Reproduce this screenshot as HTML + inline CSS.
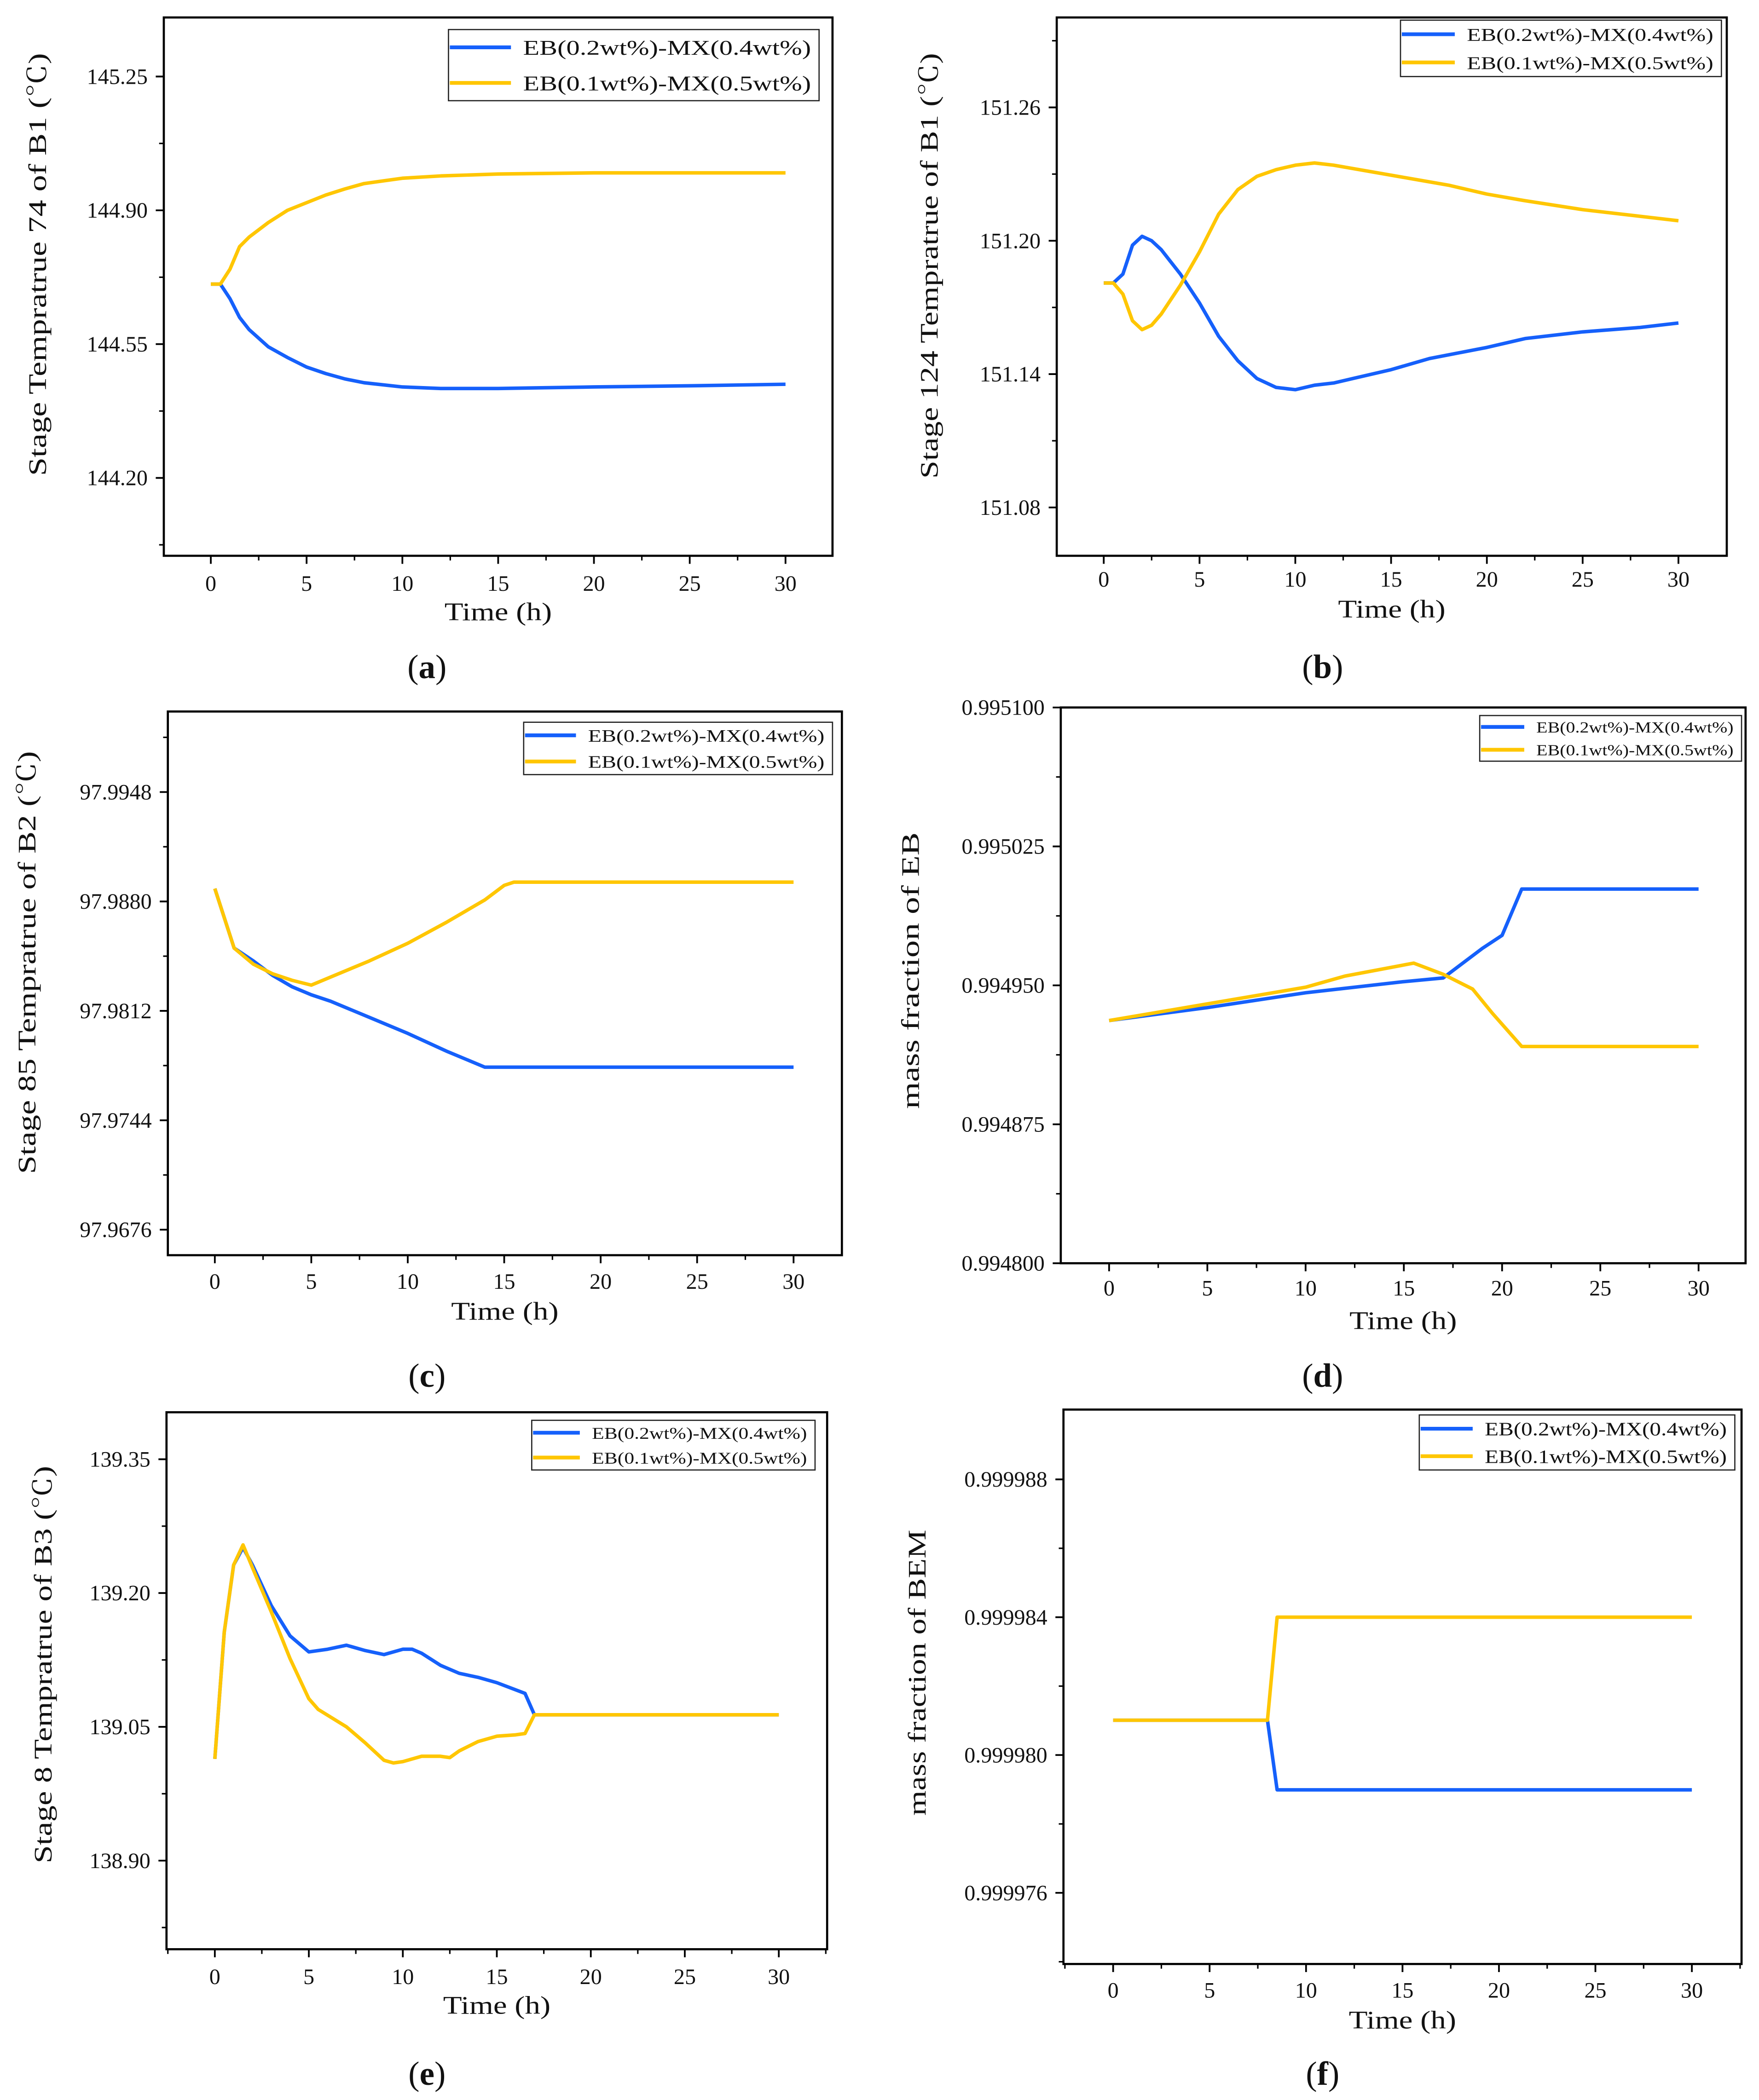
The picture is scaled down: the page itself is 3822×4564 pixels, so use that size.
<!DOCTYPE html>
<html><head><meta charset="utf-8"><style>
html,body{margin:0;padding:0;background:#fff;}
svg{display:block;}
text{font-family:"Liberation Serif","Noto Serif CJK SC",serif;fill:#111;}
</style></head><body>
<svg id="fig" width="3822" height="4564" viewBox="0 0 1310 1564.3" xmlns="http://www.w3.org/2000/svg"></svg>
<script>
// ---- data arrays ----
const aBlueT=[0,0.5,1,1.5,2,3,4,5,6,7,8,10,12,15,20,25,30];
const aBlueV=[144.707,144.707,144.669,144.62,144.588,144.543,144.515,144.49,144.473,144.459,144.449,144.438,144.434,144.434,144.438,144.441,144.445];
const aYelT=[0,0.5,1,1.5,2,3,4,5,6,7,8,9,10,12,15,20,25,30];
const aYelV=[144.707,144.707,144.746,144.805,144.83,144.868,144.9,144.92,144.94,144.956,144.97,144.977,144.984,144.99,144.995,144.998,144.998,144.998];
const aYTicks=[145.25,144.90,144.55,144.20];
const aYLabels=["145.25","144.90","144.55","144.20"];

const bBlueT=[0,0.5,1,1.5,2,2.5,3,4,5,6,7,8,9,10,11,12,13,15,17,20,22,25,28,30];
const bBlueV=[151.181,151.181,151.185,151.198,151.202,151.2,151.196,151.185,151.172,151.157,151.146,151.138,151.134,151.133,151.135,151.136,151.138,151.142,151.147,151.152,151.156,151.159,151.161,151.163];
const bYelT=[0,0.5,1,1.5,2,2.5,3,4,5,6,7,8,9,10,11,12,14,16,18,20,22,25,28,30];
const bYelV=[151.181,151.181,151.176,151.164,151.160,151.162,151.167,151.18,151.195,151.212,151.223,151.229,151.232,151.234,151.235,151.234,151.231,151.228,151.225,151.221,151.218,151.214,151.211,151.209];
const bYTicks=[151.26,151.20,151.14,151.08];
const bYLabels=["151.26","151.20","151.14","151.08"];

const cBlueT=[0,1,2,3,4,5,6,8,10,12,14,30];
const cBlueV=[97.9888,97.9851,97.9843,97.9834,97.9827,97.9822,97.9818,97.9808,97.9798,97.9787,97.9777,97.9777];
const cYelT=[0,1,2,3,4,5,6,8,10,12,14,15,15.5,30];
const cYelV=[97.9888,97.9851,97.9841,97.9835,97.9831,97.9828,97.9833,97.9843,97.9854,97.9867,97.9881,97.9890,97.9892,97.9892];
const cYTicks=[97.9948,97.9880,97.9812,97.9744,97.9676];
const cYLabels=["97.9948","97.9880","97.9812","97.9744","97.9676"];

const dBlueT=[0,5,10,15,17,19,20,21,30];
const dBlueV=[0.994931,0.994938,0.994946,0.994952,0.994954,0.99497,0.994977,0.995002,0.995002];
const dYelT=[0,5,10,12,15.5,17,18.5,19.5,21,30];
const dYelV=[0.994931,0.99494,0.994949,0.994955,0.994962,0.994956,0.994948,0.994935,0.994917,0.994917];
const dYTicks=[0.995100,0.995025,0.994950,0.994875,0.994800];
const dYLabels=["0.995100","0.995025","0.994950","0.994875","0.994800"];

const eBlueT=[0,0.5,1,1.5,2,3,4,5,6,7,8,9,10,10.5,11,12,13,14,15,16.5,17,30];
const eBlueV=[139.014,139.156,139.2315,139.251,139.2315,139.186,139.152,139.134,139.137,139.1415,139.1355,139.131,139.137,139.137,139.1325,139.119,139.11,139.1055,139.0995,139.0875,139.0635,139.0635];
const eYelT=[0,0.5,1,1.5,2,3,4,5,5.5,7,8,9,9.5,10,11,12,12.5,13,14,15,16,16.5,17,30];
const eYelV=[139.014,139.156,139.2315,139.254,139.2285,139.179,139.1265,139.0815,139.0695,139.05,139.032,139.0125,139.0095,139.011,139.017,139.017,139.0155,139.023,139.0335,139.0395,139.041,139.0425,139.0635,139.0635];
const eYTicks=[139.35,139.20,139.05,138.90];
const eYLabels=["139.35","139.20","139.05","138.90"];

const fBlueT=[0,8,8.5,30];
const fBlueV=[0.99998101,0.99998101,0.99997899,0.99997899];
const fYelT=[0,8,8.5,30];
const fYelV=[0.99998101,0.99998101,0.999984,0.999984];
const fYTicks=[0.999988,0.999984,0.999980,0.999976];
const fYLabels=["0.999988","0.999984","0.999980","0.999976"];

const xTicks=[0,5,10,15,20,25,30];
const legendLabels=["EB(0.2wt%)-MX(0.4wt%)","EB(0.1wt%)-MX(0.5wt%)"];

// ---- layout ----
const panels=[
 {id:'a',box:[122,13,620,414],x0:157,x30:585,yt:[57,356],yTicks:aYTicks,yLabels:aYLabels,blue:[aBlueT,aBlueV],yel:[aYelT,aYelV],ylab:"Stage Tempratrue 74 of B1 (℃)",ylx:30,yly:197,yll:315,xly:462,xtl:440,cap:[318,497],leg:[334,22,610,75,15.5]},
 {id:'b',box:[787,13,1286,414],x0:822,x30:1250,yt:[80,378],yTicks:bYTicks,yLabels:bYLabels,blue:[bBlueT,bBlueV],yel:[bYelT,bYelV],ylab:"Stage 124 Tempratrue of B1 (℃)",ylx:694,yly:198,yll:317,xly:460,xtl:437,cap:[985,497],leg:[1043,15,1282,57,13.5]},
 {id:'c',box:[125,530,627,935],x0:160,x30:591,yt:[590,916],yTicks:cYTicks,yLabels:cYLabels,blue:[cBlueT,cBlueV],yel:[cYelT,cYelV],ylab:"Stage 85 Tempratrue of B2 (℃)",ylx:22,yly:717,yll:315,xly:983,xtl:960,cap:[318,1025],leg:[390,538,620,577,13]},
 {id:'d',box:[790,527,1300,941],x0:826,x30:1265,yt:[527,941],yTicks:dYTicks,yLabels:dYLabels,blue:[dBlueT,dBlueV],yel:[dYelT,dYelV],ylab:"mass fraction of EB",ylx:680,yly:723,yll:206,xly:990,xtl:965,cap:[985,1025],leg:[1102,533,1297,567,11.5]},
 {id:'e',box:[124,1052,616,1452],x0:160,x30:580,yt:[1087,1386],yTicks:eYTicks,yLabels:eYLabels,blue:[eBlueT,eBlueV],yel:[eYelT,eYelV],ylab:"Stage 8 Tempratrue of B3 (℃)",ylx:34,yly:1240,yll:296,xly:1500,xtl:1478,cap:[318,1545],leg:[396,1058,607,1095,12.5]},
 {id:'f',box:[792,1050,1297,1463],x0:829,x30:1260,yt:[1102,1410],yTicks:fYTicks,yLabels:fYLabels,blue:[fBlueT,fBlueV],yel:[fYelT,fYelV],ylab:"mass fraction of BEM",ylx:685,yly:1246,yll:213,xly:1511,xtl:1488,cap:[985,1545],leg:[1057,1054,1292,1095,14]}
];
const NS="http://www.w3.org/2000/svg";
const svg=document.getElementById('fig');
function mk(tag,attrs,parent){const e=document.createElementNS(NS,tag);for(const k in attrs)e.setAttribute(k,attrs[k]);(parent||svg).appendChild(e);return e;}
panels.forEach(p=>{
 const g=mk('g',{});
 
 
 const [L,T,R,B]=p.box;
 const v0=p.yTicks[0],v1=p.yTicks[p.yTicks.length-1];
 const sy=v=>p.yt[0]+(v-v0)/(v1-v0)*(p.yt[1]-p.yt[0]);
 const sx=t=>p.x0+t/30*(p.x30-p.x0);
 const box=mk('rect',{x:L,y:T,width:R-L,height:B-T,fill:'none',stroke:'#000','stroke-width':1.6},g);
 
 
 const step=(p.yt[1]-p.yt[0])/(p.yTicks.length-1);
 p.yTicks.forEach((v,i)=>{
  const y=sy(v);
  const tk=mk('line',{x1:L-6,x2:L,y1:y,y2:y,stroke:'#000','stroke-width':1.3},g);
  
  
  const tl=mk('text',{x:L-12,y:y+5.5,'text-anchor':'end','font-size':16.5},g);
  tl.textContent=p.yLabels[i];
  
  
 });
 for(let y=p.yt[0]-step*2;y<=B;y+=step/2){
  if(y<T+1||y>B-1)continue;
  mk('line',{x1:L-3.5,x2:L,y1:y,y2:y,stroke:'#000','stroke-width':1.1},g);
 }
 xTicks.forEach(t=>{
  const x=sx(t);
  const tk=mk('line',{x1:x,x2:x,y1:B,y2:B+6,stroke:'#000','stroke-width':1.3},g);
  
  
  const tl=mk('text',{x:x,y:p.xtl,'text-anchor':'middle','font-size':16.5},g);
  tl.textContent=String(t);
  
  
 });
 for(let t=-5;t<=35;t+=2.5){
  const x=sx(t);if(x<L+1||x>R-1||t%5===0)continue;
  mk('line',{x1:x,x2:x,y1:B,y2:B+3.5,stroke:'#000','stroke-width':1.1},g);
 }
 const xl=mk('text',{x:(L+R)/2,y:p.xly,'text-anchor':'middle','font-size':19,textLength:80,lengthAdjust:'spacingAndGlyphs'},g);
 xl.textContent="Time (h)";
 
 
 const yl=mk('text',{x:p.ylx,y:p.yly,'text-anchor':'middle','font-size':19,textLength:p.yll,lengthAdjust:'spacingAndGlyphs',transform:`rotate(-90 ${p.ylx} ${p.yly})`,'dominant-baseline':'middle'},g);
 yl.textContent=p.ylab;
 
 
 const cp=mk('text',{x:p.cap[0],y:p.cap[1]+8,'text-anchor':'middle','font-size':25},g);
 cp.innerHTML='(<tspan font-weight="bold">'+p.id+'</tspan>)';
 
 
 [[p.blue,'#1560fb','series-eb02-mx04'],[p.yel,'#ffc600','series-eb01-mx05']].forEach(s=>{
  const d=s[0][0].map((t,i)=>(i?'L':'M')+sx(t).toFixed(2)+','+sy(s[0][1][i]).toFixed(2)).join(' ');
  const pl=mk('path',{d:d,fill:'none',stroke:s[1],'stroke-width':2.6,'stroke-linejoin':'round'},g);
  
  
 });
 const [lx0,ly0,lx1,ly1,fs]=p.leg;
 const lg=mk('g',{},g);
 
 
 mk('rect',{x:lx0,y:ly0,width:lx1-lx0,height:ly1-ly0,fill:'#fff',stroke:'#222','stroke-width':0.9},lg);
 const rh=(ly1-ly0)/2;
 ['#1560fb','#ffc600'].forEach((c,i)=>{
  const cy=ly0+rh*(i+0.5);
  const segW=(lx1-lx0)*0.165;
  mk('line',{x1:lx0+1,x2:lx0+1+segW,y1:cy,y2:cy,stroke:c,'stroke-width':2.8},lg);
  const t=mk('text',{x:lx0+segW+10,y:cy+fs*0.36,'font-size':fs,textLength:(lx1-lx0)-segW-16,lengthAdjust:'spacingAndGlyphs'},lg);
  t.textContent=legendLabels[i];
  
  
 });
});
</script>
</body></html>
